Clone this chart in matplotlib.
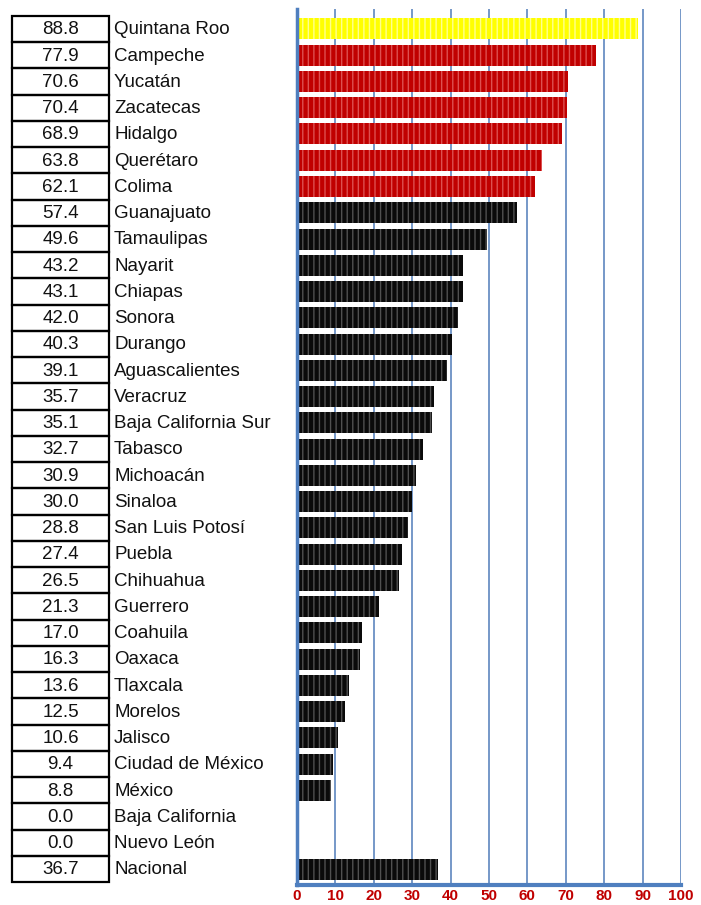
import matplotlib
matplotlib.use("Agg")
import matplotlib.pyplot as plt
from matplotlib.patches import Rectangle

states = ["Quintana Roo", "Campeche", "Yucatán", "Zacatecas", "Hidalgo", "Querétaro",
          "Colima", "Guanajuato", "Tamaulipas", "Nayarit", "Chiapas", "Sonora", "Durango",
          "Aguascalientes", "Veracruz", "Baja California Sur", "Tabasco", "Michoacán",
          "Sinaloa", "San Luis Potosí", "Puebla", "Chihuahua", "Guerrero", "Coahuila",
          "Oaxaca", "Tlaxcala", "Morelos", "Jalisco", "Ciudad de México", "México",
          "Baja California", "Nuevo León", "Nacional"]
values = [88.8, 77.9, 70.6, 70.4, 68.9, 63.8, 62.1, 57.4, 49.6, 43.2, 43.1, 42.0, 40.3,
          39.1, 35.7, 35.1, 32.7, 30.9, 30.0, 28.8, 27.4, 26.5, 21.3, 17.0, 16.3, 13.6,
          12.5, 10.6, 9.4, 8.8, 0.0, 0.0, 36.7]
groups = ["top"] + ["high"] * 6 + ["rest"] * 26
xticks = [0, 10, 20, 30, 40, 50, 60, 70, 80, 90, 100]

face = {"top": "#ffff00", "high": "#c00000", "rest": "#0a0a0a"}
hatchc = {"top": "#ffff90", "high": "#dd5050", "rest": "#505050"}

plt.rcParams['font.family'] = ['Liberation Sans', 'DejaVu Sans']
plt.rcParams['hatch.linewidth'] = 1.0

W, H = 701, 905
fig = plt.figure(figsize=(W / 100, H / 100), dpi=100)

n = len(states)
row_px = 26.25
top_px, bot_px = 9, 885
ylim_top = -(29 - top_px) / row_px
ylim_bot = (n - 1) + (bot_px - 869) / row_px

ax_left, ax_right = 297, 681
ax = fig.add_axes([ax_left / W, (H - bot_px) / H, (ax_right - ax_left) / W, (bot_px - top_px) / H])
ax.set_xlim(0, 100)
ax.set_ylim(ylim_bot, ylim_top)

for x in xticks[1:]:
    ax.axvline(x, color="#6a90c4", lw=1.3, zorder=0)

for i, (v, g) in enumerate(zip(values, groups)):
    if v <= 0:
        continue
    ax.barh(i, v, height=0.8, left=0, color=face[g], edgecolor=hatchc[g],
            hatch="|||", linewidth=0, zorder=2)

for s in ["top", "right"]:
    ax.spines[s].set_visible(False)
ax.spines["left"].set_color("#4f7fbf")
ax.spines["left"].set_linewidth(2.5)
ax.spines["left"].set_zorder(3)
ax.spines["bottom"].set_color("#4f7fbf")
ax.spines["bottom"].set_linewidth(3)
ax.set_yticks([])
ax.set_xticks(xticks)
ax.tick_params(axis="x", length=0, pad=3, labelcolor="#c00000", labelsize=11)
for lab in ax.get_xticklabels():
    lab.set_fontweight("bold")

# table axes
tx = fig.add_axes([0, (H - bot_px) / H, ax_left / W, (bot_px - top_px) / H])
tx.set_xlim(0, ax_left)
tx.set_ylim(ylim_bot, ylim_top)
tx.axis("off")
box_l, box_r = 12, 109
for i, (s, v) in enumerate(zip(states, values)):
    tx.add_patch(Rectangle((box_l, i - 0.5), box_r - box_l, 1.0, fill=False,
                           edgecolor="black", lw=1.6, clip_on=False))
    tx.text((box_l + box_r) / 2, i + 0.03, f"{v:.1f}", ha="center", va="center",
            fontsize=13.5, color="#111111")
    tx.text(114, i + 0.03, s, ha="left", va="center", fontsize=13.5, color="#111111")

fig.savefig("out.png", dpi=100)
